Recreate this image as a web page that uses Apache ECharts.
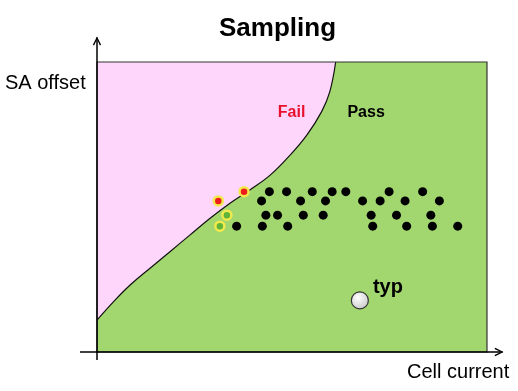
<!DOCTYPE html>
<html><head><meta charset="utf-8">
<script src="https://cdn.jsdelivr.net/npm/echarts@6/dist/echarts.min.js"></script>
<style>html,body{margin:0;padding:0;background:#fff}#c{width:518px;height:391px}</style>
</head><body><div id="c"></div>
<script>
// Boundary curve between Fail (left/top) and Pass regions: [cell current, SA offset]
const boundary = [[0,11],[4.2,17.3],[8.5,23.1],[13.6,28.9],[18.7,34.6],[23.8,40.3],[29.0,46.1],[34.1,51.3],
  [39.2,55.9],[44.4,61.0],[49.5,67.9],[53.8,74.8],[57.6,82.9],[59.7,89.8],[61.2,100]];
// Passing samples (black dots)
const passSamples = [
  [44.2,55.3],[48.6,55.3],[55.2,55.3],[60.3,55.3],[63.8,55.3],[74.9,55.3],[83.5,55.3],
  [42.2,52.1],[52.2,52.1],[58.6,52.1],[68.1,52.1],[72.6,52.1],[79.0,52.1],[87.8,52.1],
  [43.3,47.2],[46.3,47.2],[52.9,47.2],[58.0,47.2],[70.3,47.2],[76.8,47.2],[85.6,47.2],
  [35.8,43.4],[42.4,43.4],[48.9,43.4],[70.7,43.4],[79.4,43.4],[86.0,43.4],[92.5,43.4]
];
// Failing samples (red with yellow ring)
const failSamples = [[31.1,52.1],[37.7,55.3]];
// Marginal samples near boundary (green with yellow ring)
const marginalSamples = [[33.3,47.2],[31.5,43.4]];
// Typical point
const typPoint = [[67.4,17.8]];
// Region labels
const regionLabels = [{name:'Fail', value:[49.9,82.4], color:'#e8112d'},{name:'Pass', value:[69.0,82.4], color:'#000'}];

const FONT = '"Liberation Sans", Arial, Helvetica, sans-serif';
const chevron = 'path://M0,10 L5,0 L10,10 L8.5,10.9 L5,3.4 L1.5,10.9 Z';

const chart = echarts.init(document.getElementById('c'), null, {renderer:'canvas'});
chart.setOption({
  animation:false,
  backgroundColor:'#fff',
  title:{text:'Sampling', left:219, top:16, padding:0,
    textStyle:{fontFamily:FONT, fontSize:26, fontWeight:'bold', color:'#000'}},
  grid:{left:97, top:38, width:405, height:314},
  xAxis:{type:'value', min:0, max:103.85, z:10,
    axisLine:{show:true, onZero:false, symbol:['none',chevron], symbolSize:[13,9], symbolOffset:[0,-3],
      lineStyle:{color:'#000', width:1.5}},
    axisTick:{show:false}, axisLabel:{show:false}, splitLine:{show:false}},
  yAxis:{type:'value', min:0, max:108.28, z:10,
    axisLine:{show:true, onZero:false, symbol:['none',chevron], symbolSize:[13,9], symbolOffset:[0,-3],
      lineStyle:{color:'#000', width:1.5}},
    axisTick:{show:false}, axisLabel:{show:false}, splitLine:{show:false}},
  graphic:[
    {type:'line', shape:{x1:80,y1:352,x2:97,y2:352}, style:{stroke:'#000', lineWidth:1.5}, z:10},
    {type:'line', shape:{x1:97,y1:352,x2:97,y2:360}, style:{stroke:'#000', lineWidth:1.5}, z:10},
    {type:'text', left:5, top:73, style:{text:'SA offset', font:'20px '+FONT, fill:'#000'}},
    {type:'text', left:407, top:362, style:{text:'Cell current', font:'20px '+FONT, fill:'#000'}}
  ],
  series:[
    {type:'line', data:[], silent:true,
      markArea:{silent:true, z:1, itemStyle:{color:'#a2d66f', borderWidth:0},
        data:[[{coord:[0,0]},{coord:[100,100]}]]}},
    {type:'line', data:boundary, smooth:0.4, symbol:'none', z:3, silent:true,
      lineStyle:{color:'#111', width:1.2},
      areaStyle:{color:'#ffd6fb', opacity:1, origin:100}},
    {type:'line', data:[], silent:true,
      markArea:{silent:true, z:4, itemStyle:{color:'rgba(0,0,0,0)', borderColor:'#333', borderWidth:1.2},
        data:[[{coord:[0,0]},{coord:[100,100]}]]}},
    {type:'scatter', data:passSamples, symbolSize:9, z:5, itemStyle:{color:'#000', opacity:1}},
    {type:'scatter', data:failSamples, symbolSize:9, z:5,
      itemStyle:{color:'#ee1c1c', borderColor:'#f2ea4c', borderWidth:2.5, opacity:1}},
    {type:'scatter', data:marginalSamples, symbolSize:9, z:5,
      itemStyle:{color:'#5fb43a', borderColor:'#f2ea4c', borderWidth:2.5, opacity:1}},
    {type:'scatter', data:typPoint, symbolSize:17, z:5,
      itemStyle:{color:new echarts.graphic.RadialGradient(0.4,0.35,0.7,[{offset:0,color:'#ffffff'},{offset:1,color:'#c8c8c8'}]),
        borderColor:'#333', borderWidth:1.2, opacity:1},
      label:{show:true, formatter:'typ', position:'right', offset:[-1,-13],
        fontFamily:FONT, fontSize:20, fontWeight:'bold', color:'#000'}},
    {type:'scatter', symbolSize:1, z:6, itemStyle:{opacity:1, color:'rgba(0,0,0,0)'},
      data:regionLabels.map(function(d){return {name:d.name, value:d.value, label:{color:d.color}};}),
      label:{show:true, position:'inside', formatter:'{b}', fontFamily:FONT, fontSize:16, fontWeight:'bold'}}
  ]
});
</script></body></html>
